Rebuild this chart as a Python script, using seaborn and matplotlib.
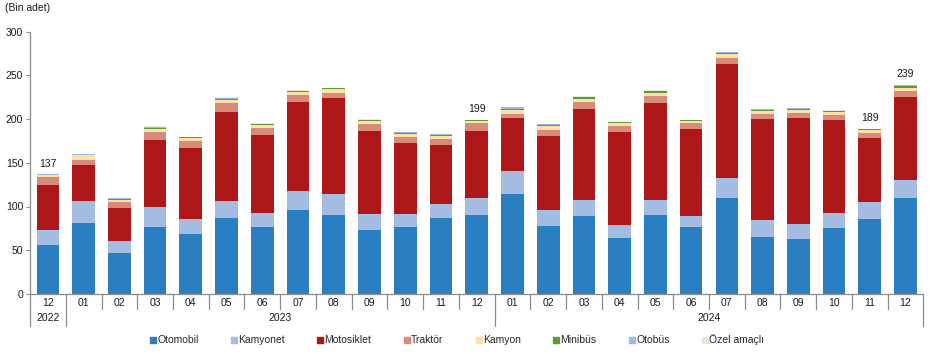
import numpy as np
import pandas as pd
import matplotlib
matplotlib.use("Agg")
import matplotlib.pyplot as plt
from matplotlib.lines import Line2D
import matplotlib.transforms as mtransforms
import seaborn as sns

months = ["12", "01", "02", "03", "04", "05", "06", "07", "08", "09", "10", "11", "12",
          "01", "02", "03", "04", "05", "06", "07", "08", "09", "10", "11", "12"]
years = ["2022", "2023", "2024"]
year_spans = [(0, 0), (1, 12), (13, 24)]

otomobil = [56.5, 81.7, 47.3, 76.0, 68.0, 86.3, 76.0, 95.5, 89.8, 73.7, 76.0, 86.3, 89.8,
            113.8, 77.2, 88.6, 64.5, 89.8, 76.0, 109.3, 65.7, 62.3, 74.9, 85.2, 109.3]
kamyonet = [17.0, 24.1, 13.7, 23.0, 17.2, 19.5, 16.0, 21.8, 24.0, 17.3, 15.0, 16.1, 19.5,
            26.4, 18.3, 19.4, 13.8, 17.2, 12.6, 22.9, 18.3, 17.2, 17.1, 19.5, 20.6]
motosiklet = [50.8, 41.2, 36.8, 76.8, 81.4, 102.1, 89.5, 102.0, 110.2, 95.0, 81.3, 67.6, 76.7,
              60.8, 84.8, 103.3, 106.6, 111.2, 99.8, 130.7, 115.8, 121.5, 106.7, 73.3, 95.1]
traktor = [9.0, 5.8, 6.9, 9.2, 8.0, 10.3, 8.0, 8.1, 5.7, 8.0, 6.9, 6.9, 9.2,
           4.6, 6.9, 8.0, 6.9, 8.0, 6.8, 6.9, 5.8, 5.7, 5.7, 5.8, 6.9]
kamyon = [2.5, 5.7, 3.3, 4.0, 3.4, 3.4, 3.5, 3.6, 4.6, 3.4, 3.4, 3.4, 2.8,
          4.6, 4.6, 3.5, 3.4, 3.5, 2.8, 4.2, 3.4, 3.5, 3.5, 3.4, 3.4]
minibus = [0.7, 0.8, 0.8, 1.2, 1.0, 1.3, 0.8, 1.0, 1.0, 1.2, 1.2, 1.0, 0.7,
           1.8, 1.0, 1.9, 1.2, 1.8, 0.6, 1.5, 1.0, 1.8, 1.2, 0.9, 2.4]
otobus = [0.3, 0.4, 0.8, 1.0, 0.6, 1.0, 0.7, 0.4, 0.3, 0.5, 1.0, 1.0, 0.2,
          1.5, 1.0, 0.8, 0.4, 0.7, 0.2, 1.0, 1.0, 0.6, 0.4, 0.6, 0.8]
ozel = [0.2, 0.3, 0.4, 0.6, 0.4, 0.8, 0.5, 0.3, 0.2, 0.4, 0.5, 0.5, 0.1,
        0.7, 0.5, 0.5, 0.3, 0.4, 0.2, 0.5, 0.6, 0.4, 0.3, 0.3, 0.5]

series_names = ["Otomobil", "Kamyonet", "Motosiklet", "Traktör", "Kamyon",
                "Minibüs", "Otobüs", "Özel amaçlı"]
series_values = [otomobil, kamyonet, motosiklet, traktor, kamyon, minibus, otobus, ozel]
colors = ["#2A7FC2", "#A5BDE3", "#AD1717", "#D98B7B", "#FCE2A4", "#5B9A3F", "#9DBBE0", "#E2EEDC"]

labeled_idx = [0, 12, 23, 24]

sns.set_theme(style="white")
plt.rcParams["font.family"] = ["Liberation Sans", "DejaVu Sans"]

fig = plt.figure(figsize=(9.33, 3.54), dpi=100)
ax = fig.add_axes([0.0322, 0.1695, 0.9575, 0.7415])

n = len(months)
x = list(range(n))
vals = np.array(series_values)
cum = np.cumsum(vals, axis=0)

# draw cumulative bars from top layer down so each segment shows
for i in range(len(series_names) - 1, -1, -1):
    df = pd.DataFrame({"x": x, "y": cum[i]})
    sns.barplot(data=df, x="x", y="y", color=colors[i], width=0.635,
                saturation=1, ax=ax, linewidth=0, errorbar=None)

ax.set_xlim(-0.5, n - 0.5)
ax.set_ylim(0, 300)
ax.set_yticks([0, 50, 100, 150, 200, 250, 300])
ax.set_xlabel("")
ax.set_ylabel("")
ax.set_xticks([])
for s in ["top", "right"]:
    ax.spines[s].set_visible(False)
for s in ["left", "bottom"]:
    ax.spines[s].set_color("#8c8c8c")
    ax.spines[s].set_linewidth(0.9)
ax.tick_params(axis="y", left=True, length=3, width=0.8, color="#8c8c8c",
               labelsize=7.5, pad=2, labelcolor="#1a1a1a")

totals = cum[-1]
for idx in labeled_idx:
    ax.text(idx, totals[idx] + 12, f"{round(totals[idx])}", ha="center", va="center",
            fontsize=7.5, color="#1a1a1a")

trans = mtransforms.blended_transform_factory(ax.transData, ax.transAxes)
month_sep = -15 / 262.5
year_sep = -32 / 262.5
year_bounds = [-0.5, 0.5, 12.5, n - 0.5]
for k in range(n + 1):
    xb = k - 0.5
    y1 = year_sep if xb in year_bounds else month_sep
    ax.plot([xb, xb], [0, y1], transform=trans, color="#8c8c8c", lw=0.9, clip_on=False)
for k, m in enumerate(months):
    ax.text(k, -9 / 262.5, m, transform=trans, ha="center", va="center",
            fontsize=7.5, color="#1a1a1a")
for yr, (a, b) in zip(years, year_spans):
    ax.text((a + b) / 2, -24 / 262.5, yr, transform=trans, ha="center", va="center",
            fontsize=7.5, color="#1a1a1a")

fig.text(5 / 933, 1 - 8 / 354, "(Bin adet)", ha="left", va="center", fontsize=7.5,
         color="#1a1a1a")

handles = [Line2D([0], [0], marker="s", linestyle="none", markersize=5,
                  markerfacecolor=c, markeredgecolor=c) for c in colors]
fig.legend(handles, series_names, loc="center", bbox_to_anchor=(0.49, 1 - 340 / 354),
           ncol=8, frameon=False, fontsize=7.5, handlelength=0.6, handletextpad=0.1,
           columnspacing=3.1, borderaxespad=0)

fig.savefig("out.png", dpi=100)
